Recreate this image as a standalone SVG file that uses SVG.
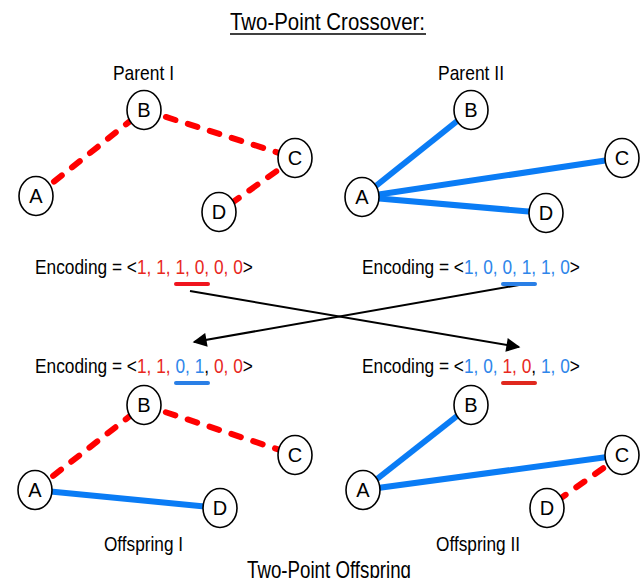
<svg xmlns="http://www.w3.org/2000/svg" width="644" height="578" viewBox="0 0 644 578">
  <defs>
    <style>
      text { font-family: "Liberation Sans", Arial, sans-serif; fill: #000; }
      .lbl { font-size: 20px; }
      .cap { font-size: 21px; }
      .title { font-size: 24px; }
      .node ellipse { fill: #fff; stroke: #000; stroke-width: 1.6; }
      .node text { font-size: 20px; text-anchor: middle; }
      .red { stroke: #ff0000; stroke-width: 6; stroke-dasharray: 10 13; stroke-linecap: round; fill: none; }
      .blue { stroke: #0a7cf5; stroke-width: 6; fill: none; }
      .r { fill: #e8281e; }
      .b { fill: #2f86ea; }
      .arrow { stroke: #000; stroke-width: 2; fill: none; marker-end: url(#head); }
    </style>
    <marker id="head" viewBox="0 0 10 10" refX="9" refY="5" markerWidth="8" markerHeight="7" markerUnits="strokeWidth" orient="auto">
      <path d="M0,0 L10,5 L0,10 Z" fill="#000"/>
    </marker>
  </defs>
  <rect width="644" height="578" fill="#fff"/>

  <!-- headings -->
  <text class="title" x="230" y="30" textLength="195" lengthAdjust="spacingAndGlyphs">Two-Point Crossover:</text>
  <line x1="230" y1="34" x2="426" y2="34" stroke="#000" stroke-width="1.4"/>
  <text class="cap" x="113" y="80" textLength="61" lengthAdjust="spacingAndGlyphs">Parent I</text>
  <text class="cap" x="438" y="80" textLength="66" lengthAdjust="spacingAndGlyphs">Parent II</text>

  <!-- connectors -->
  <g id="connectors">
    <!-- Parent I -->
    <line class="red" x1="36" y1="196" x2="144" y2="110"/>
    <line class="red" x1="144" y1="110" x2="295" y2="158"/>
    <line class="red" x1="295" y1="158" x2="219" y2="212"/>
    <!-- Parent II -->
    <line class="blue" x1="362" y1="197" x2="471" y2="110"/>
    <line class="blue" x1="362" y1="197" x2="622" y2="158"/>
    <line class="blue" x1="362" y1="197" x2="546" y2="213"/>
    <!-- Offspring I -->
    <line class="red" x1="35" y1="490" x2="144" y2="405"/>
    <line class="red" x1="144" y1="405" x2="295" y2="455"/>
    <line class="blue" x1="35" y1="490" x2="220" y2="508"/>
    <!-- Offspring II -->
    <line class="blue" x1="363" y1="490" x2="471" y2="405"/>
    <line class="blue" x1="363" y1="490" x2="622" y2="455"/>
    <line class="red" x1="622" y1="455" x2="547" y2="508"/>
    <!-- crossover arrows -->
    <line class="arrow" x1="190" y1="291" x2="519" y2="347"/>
    <line class="arrow" x1="519" y1="285" x2="194" y2="342"/>
  </g>

  <!-- Parent I nodes -->
  <g id="p1-A" class="node"><ellipse cx="36" cy="196" rx="17" ry="19.5"/><text x="36" y="203">A</text></g>
  <g id="p1-B" class="node"><ellipse cx="144" cy="110" rx="17" ry="19.5"/><text x="144" y="117">B</text></g>
  <g id="p1-C" class="node"><ellipse cx="295" cy="158" rx="17" ry="19.5"/><text x="295" y="165">C</text></g>
  <g id="p1-D" class="node"><ellipse cx="219" cy="212" rx="17" ry="19.5"/><text x="219" y="219">D</text></g>

  <!-- Parent II nodes -->
  <g id="p2-A" class="node"><ellipse cx="362" cy="197" rx="17" ry="19.5"/><text x="362" y="204">A</text></g>
  <g id="p2-B" class="node"><ellipse cx="471" cy="110" rx="17" ry="19.5"/><text x="471" y="117">B</text></g>
  <g id="p2-C" class="node"><ellipse cx="622" cy="158" rx="17" ry="19.5"/><text x="622" y="165">C</text></g>
  <g id="p2-D" class="node"><ellipse cx="546" cy="213" rx="17" ry="19.5"/><text x="546" y="220">D</text></g>

  <!-- encodings (condensed horizontally) -->
  <g id="enc-p1">
    <text class="lbl" transform="translate(35,274) scale(0.866,1)">Encoding = &lt;<tspan class="r">1, 1, 1, 0, 0, 0</tspan>&gt;</text>
    <line x1="176" y1="284" x2="208" y2="284" stroke="#f0141e" stroke-width="4" stroke-linecap="round"/>
  </g>
  <g id="enc-p2">
    <text class="lbl" transform="translate(362,274) scale(0.866,1)">Encoding = &lt;<tspan class="b">1, 0, 0, 1, 1, 0</tspan>&gt;</text>
    <line x1="503" y1="284" x2="535" y2="284" stroke="#2a7fe6" stroke-width="4" stroke-linecap="round"/>
  </g>
  <g id="enc-o1">
    <text class="lbl" transform="translate(35,373) scale(0.866,1)">Encoding = &lt;<tspan class="r">1, 1, </tspan><tspan class="b">0, 1</tspan>, <tspan class="r">0, 0</tspan>&gt;</text>
    <line x1="176" y1="383" x2="208" y2="383" stroke="#2a7fe6" stroke-width="4" stroke-linecap="round"/>
  </g>
  <g id="enc-o2">
    <text class="lbl" transform="translate(362,373) scale(0.866,1)">Encoding = &lt;<tspan class="b">1, 0, </tspan><tspan class="r">1, 0</tspan>, <tspan class="b">1, 0</tspan>&gt;</text>
    <line x1="503" y1="383" x2="535" y2="383" stroke="#e0281e" stroke-width="4" stroke-linecap="round"/>
  </g>

  <!-- Offspring I nodes -->
  <g id="o1-A" class="node"><ellipse cx="35" cy="490" rx="17" ry="19.5"/><text x="35" y="497">A</text></g>
  <g id="o1-B" class="node"><ellipse cx="144" cy="405" rx="17" ry="19.5"/><text x="144" y="412">B</text></g>
  <g id="o1-C" class="node"><ellipse cx="295" cy="455" rx="17" ry="19.5"/><text x="295" y="462">C</text></g>
  <g id="o1-D" class="node"><ellipse cx="220" cy="508" rx="17" ry="19.5"/><text x="220" y="515">D</text></g>

  <!-- Offspring II nodes -->
  <g id="o2-A" class="node"><ellipse cx="363" cy="490" rx="17" ry="19.5"/><text x="363" y="497">A</text></g>
  <g id="o2-B" class="node"><ellipse cx="471" cy="405" rx="17" ry="19.5"/><text x="471" y="412">B</text></g>
  <g id="o2-C" class="node"><ellipse cx="622" cy="455" rx="17" ry="19.5"/><text x="622" y="462">C</text></g>
  <g id="o2-D" class="node"><ellipse cx="547" cy="508" rx="17" ry="19.5"/><text x="547" y="515">D</text></g>

  <text class="cap" x="104" y="551" textLength="79" lengthAdjust="spacingAndGlyphs">Offspring I</text>
  <text class="cap" x="436" y="551" textLength="84" lengthAdjust="spacingAndGlyphs">Offspring II</text>
  <text class="title" x="247" y="578" textLength="164" lengthAdjust="spacingAndGlyphs">Two-Point Offspring</text>
</svg>
